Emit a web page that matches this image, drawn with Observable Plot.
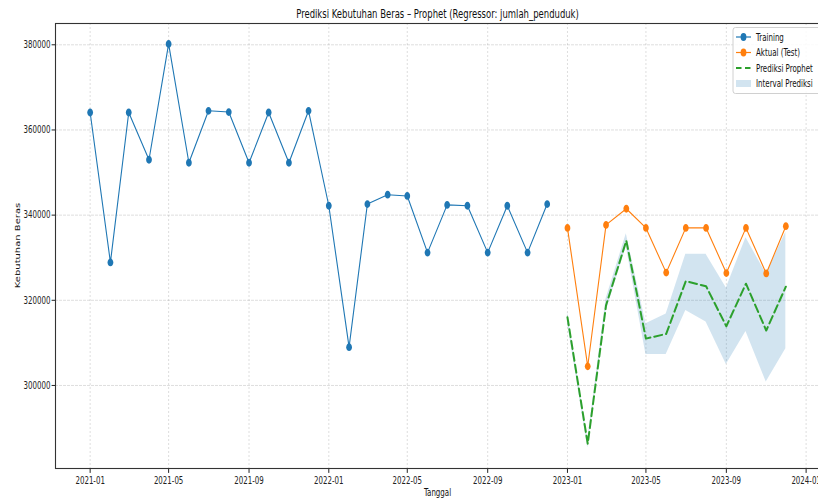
<!DOCTYPE html>
<html>
<head>
<meta charset="utf-8">
<script src="https://cdn.jsdelivr.net/npm/d3@7"></script>
<script src="https://cdn.jsdelivr.net/npm/@observablehq/plot@0.6"></script>
<style>
  html, body { margin: 0; padding: 0; background: #fff; }
  #wrap { position: relative; width: 818px; height: 499px; overflow: hidden; font-family: "DejaVu Sans", sans-serif; }
  #chart { position: absolute; left: 0; top: 22px; }
  #overlay { position: absolute; left: 0; top: 0; pointer-events: none; }
</style>
</head>
<body>
<div id="wrap">
  <div id="chart"></div>
  <svg id="overlay" width="818" height="499"></svg>
</div>
<script>
// Monthly rice demand (kebutuhan beras): training period
const trainMonths = ["2021-01","2021-02","2021-03","2021-04","2021-05","2021-06","2021-07","2021-08","2021-09","2021-10","2021-11","2021-12",
                     "2022-01","2022-02","2022-03","2022-04","2022-05","2022-06","2022-07","2022-08","2022-09","2022-10","2022-11","2022-12"];
const trainValues = [364100, 328900, 364100, 353000, 380200, 352300, 364500, 364200, 352300, 364100, 352300, 364500,
                     342200, 309000, 342600, 344800, 344500, 331200, 342400, 342200, 331200, 342200, 331200, 342600];

// Test period: actual values, Prophet forecast and its prediction interval
const testMonths = ["2023-01","2023-02","2023-03","2023-04","2023-05","2023-06","2023-07","2023-08","2023-09","2023-10","2023-11","2023-12"];
const testValues = [337000, 304500, 337700, 341500, 337000, 326500, 337000, 337000, 326400, 337000, 326300, 337400];
const predValues = [316000, 286300, 318800, 334000, 311000, 312100, 324500, 323300, 313900, 323900, 312900, 323200];
const predLower  = [314800, 285300, 317300, 332600, 307300, 307300, 317600, 314900, 304900, 312700, 300800, 308600];
const predUpper  = [317200, 287300, 320300, 335600, 314500, 316800, 330800, 330800, 322900, 334700, 326200, 336000];

// Axis ticks
const xTickLabels = ["2021-01","2021-05","2021-09","2022-01","2022-05","2022-09","2023-01","2023-05","2023-09","2024-01"];
const yTicks = [300000, 320000, 340000, 360000, 380000];

const parseMonth = d3.utcParse("%Y-%m");
const training = trainMonths.map((m, i) => ({date: parseMonth(m), value: trainValues[i]}));
const test = testMonths.map((m, i) => ({
  date: parseMonth(m), actual: testValues[i], pred: predValues[i], lower: predLower[i], upper: predUpper[i]
}));
const xTicks = xTickLabels.map(parseMonth);

const C_TRAIN = "#1f77b4", C_TEST = "#ff7f0e", C_PRED = "#2ca02c";
const SX = 0.707; // horizontal squeeze applied to all text

// Slightly narrow elliptical marker
const ellipse = {
  draw(ctx, size) {
    const r = Math.sqrt(size / Math.PI), rx = r * 0.74, ry = r, k = 0.5523;
    ctx.moveTo(rx, 0);
    ctx.bezierCurveTo(rx, k * ry, k * rx, ry, 0, ry);
    ctx.bezierCurveTo(-k * rx, ry, -rx, k * ry, -rx, 0);
    ctx.bezierCurveTo(-rx, -k * ry, -k * rx, -ry, 0, -ry);
    ctx.bezierCurveTo(k * rx, -ry, rx, -k * ry, rx, 0);
    ctx.closePath();
  }
};

const chart = Plot.plot({
  width: 818,
  height: 477,
  marginLeft: 55,
  marginRight: -2,
  marginTop: 1,
  marginBottom: 31,
  style: {fontFamily: "DejaVu Sans, sans-serif", fontSize: "10px", color: "#222", background: "transparent"},
  x: {type: "utc", domain: [new Date(Date.UTC(2020, 10, 9)), new Date(Date.UTC(2024, 0, 23))],
      ticks: xTicks, tickFormat: d3.utcFormat("%Y-%m"), tickSize: 4.9, tickPadding: 3, label: null},
  y: {domain: [280500, 385000], ticks: yTicks, tickFormat: d3.format("d"), tickSize: 3.4, tickPadding: 1.6, label: null},
  marks: [
    Plot.gridX(xTicks, {stroke: "#999", strokeOpacity: 0.32, strokeDasharray: "2,2"}),
    Plot.gridY(yTicks, {stroke: "#999", strokeOpacity: 0.32, strokeDasharray: "3,1"}),
    Plot.areaY(test, {x: "date", y1: "lower", y2: "upper", fill: C_TRAIN, fillOpacity: 0.2}),
    Plot.line(training, {x: "date", y: "value", stroke: C_TRAIN, strokeWidth: 1.1}),
    Plot.dot(training, {x: "date", y: "value", fill: C_TRAIN, r: 3.9, symbol: ellipse}),
    Plot.line(test, {x: "date", y: "actual", stroke: C_TEST, strokeWidth: 1.1}),
    Plot.dot(test, {x: "date", y: "actual", fill: C_TEST, r: 3.9, symbol: ellipse}),
    Plot.line(test, {x: "date", y: "pred", stroke: C_PRED, strokeWidth: 2, strokeDasharray: "8,4"}),
    Plot.frame({stroke: "#333", strokeWidth: 1.1})
  ]
});
document.getElementById("chart").appendChild(chart);

// squeeze tick labels horizontally around their anchor
chart.querySelectorAll("text").forEach(t => {
  const tr = t.getAttribute("transform") || "";
  t.setAttribute("transform", (tr + ` scale(${SX},1)`).trim());
});

// Title, axis titles and legend
const ov = d3.select("#overlay");
const txt = (x, y, s, size, anchor, extra = "") =>
  ov.append("text")
    .attr("transform", `translate(${x},${y}) scale(${SX},1)${extra}`)
    .attr("text-anchor", anchor)
    .attr("font-family", "DejaVu Sans, sans-serif")
    .attr("font-size", size)
    .attr("fill", "#111")
    .text(s);

txt(437.5, 17.5, "Prediksi Kebutuhan Beras – Prophet (Regressor: jumlah_penduduk)", 12, "middle");
txt(437.5, 496, "Tanggal", 10, "middle");
txt(19.5, 245.5, "Kebutuhan Beras", 10, "middle", " rotate(-90)");

// legend
ov.append("rect").attr("x", 733).attr("y", 27.5).attr("width", 100).attr("height", 66)
  .attr("rx", 2.5).attr("fill", "#fff").attr("fill-opacity", 0.85).attr("stroke", "#d0d0d0");
const rows = [
  {label: "Training", kind: "marker", color: C_TRAIN, y: 37},
  {label: "Aktual (Test)", kind: "marker", color: C_TEST, y: 52.5},
  {label: "Prediksi Prophet", kind: "dash", color: C_PRED, y: 68},
  {label: "Interval Prediksi", kind: "patch", color: C_TRAIN, y: 83.5}
];
rows.forEach(r => {
  if (r.kind === "marker") {
    ov.append("line").attr("x1", 736).attr("x2", 751).attr("y1", r.y).attr("y2", r.y)
      .attr("stroke", r.color).attr("stroke-width", 1.2);
    ov.append("ellipse").attr("cx", 743.5).attr("cy", r.y).attr("rx", 2.9).attr("ry", 3.9).attr("fill", r.color);
  } else if (r.kind === "dash") {
    ov.append("line").attr("x1", 736).attr("x2", 751).attr("y1", r.y).attr("y2", r.y)
      .attr("stroke", r.color).attr("stroke-width", 2).attr("stroke-dasharray", "5.5,3.5");
  } else {
    ov.append("rect").attr("x", 736).attr("y", r.y - 3.5).attr("width", 15).attr("height", 7)
      .attr("fill", r.color).attr("fill-opacity", 0.2);
  }
  txt(756, r.y + 3.6, r.label, 10, "start");
});
</script>
</body>
</html>
